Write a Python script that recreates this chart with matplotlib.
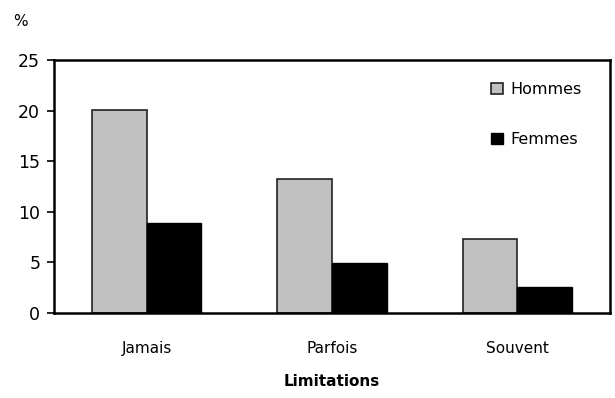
import matplotlib.pyplot as plt
import numpy as np

# Data
categories = ["Jamais", "Parfois", "Souvent"]
hommes = [20.1, 13.2, 7.3]
femmes = [8.9, 4.9, 2.6]

plt.rcParams['font.family'] = ['DejaVu Sans']

fig = plt.figure(figsize=(6.15, 3.98), dpi=100)
ax = fig.add_axes([0.088, 0.214, 0.904, 0.635])

x = np.arange(len(categories))
w = 0.295
ax.bar(x - w / 2, hommes, w, color="#c0c0c0", edgecolor="#222222", linewidth=1.2, label="Hommes")
ax.bar(x + w / 2, femmes, w, color="black", edgecolor="black", linewidth=1.0, label="Femmes")

ax.set_xlim(-0.5, 2.5)
ax.set_ylim(0, 25)
ax.set_yticks([0, 5, 10, 15, 20, 25])
ax.set_xticks(x)
ax.set_xticklabels(categories)
ax.tick_params(axis="x", length=0, pad=20, labelsize=11)
ax.tick_params(axis="y", length=5, width=1.2, direction="out", pad=5, labelsize=12.5)
for s in ax.spines.values():
    s.set_linewidth(1.8)

ax.set_xlabel("Limitations", fontweight="bold", fontsize=11, labelpad=13)
fig.text(0.022, 0.935, "%", fontsize=11)

ax.legend(loc="upper right", bbox_to_anchor=(0.975, 0.97), frameon=False, fontsize=11.5,
          handlelength=0.75, handleheight=0.75, handletextpad=0.45, labelspacing=2.2)

fig.savefig("out.png", dpi=100)
